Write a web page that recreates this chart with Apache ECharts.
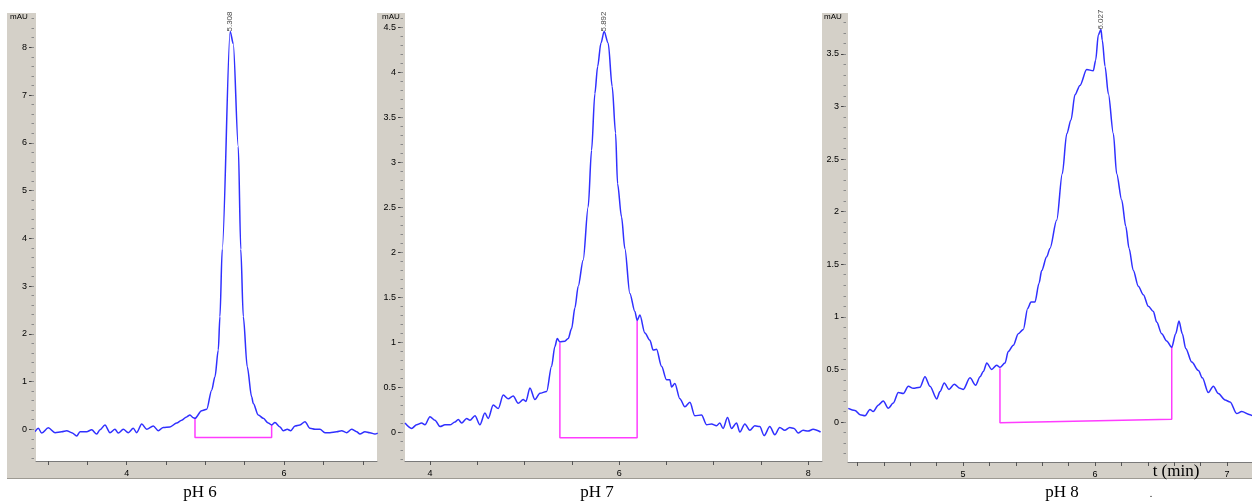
<!DOCTYPE html>
<html>
<head>
<meta charset="utf-8">
<script src="https://cdn.jsdelivr.net/npm/echarts@6/dist/echarts.min.js"></script>
<style>html,body{margin:0;padding:0;background:#fff}#c{width:1252px;height:501px}</style>
</head>
<body>
<div id="c"></div>
<script>
// ---------- DATA ----------
const panelTitles = ['pH 6', 'pH 7', 'pH 8'];
const peakLabels = ['5.308', '5.892', '6.027'];
const yUnit = 'mAU';
const xUnit = 't (min)';

// chromatogram traces: [time (min), absorbance (mAU)]
const ph6 = [[2.835,-0.05],[2.877,0.02],[2.920,-0.08],[3.004,0.03],[3.089,-0.07],[3.174,-0.05],[3.238,-0.03],[3.301,-0.07],[3.365,-0.14],[3.407,-0.05],[3.492,-0.05],[3.555,-0.01],[3.619,-0.10],[3.661,-0.01],[3.724,0.09],[3.788,-0.07],[3.851,0.00],[3.893,-0.08],[3.957,0.00],[4.020,-0.07],[4.084,0.02],[4.127,-0.07],[4.191,0.11],[4.254,0.00],[4.338,0.07],[4.402,-0.03],[4.465,0.04],[4.550,0.05],[4.635,0.13],[4.699,0.19],[4.762,0.26],[4.804,0.30],[4.846,0.24],[4.868,0.23],[4.953,0.39],[5.017,0.42],[5.080,0.82],[5.122,1.10],[5.164,1.66],[5.185,2.36],[5.214,3.77],[5.315,8.33],[5.354,8.08],[5.418,5.92],[5.450,3.77],[5.482,2.36],[5.532,1.31],[5.588,0.68],[5.609,0.54],[5.672,0.30],[5.736,0.23],[5.799,0.13],[5.842,0.09],[5.884,0.14],[5.948,0.05],[5.990,-0.03],[6.041,0.00],[6.084,-0.03],[6.139,0.07],[6.202,0.09],[6.266,0.16],[6.329,0.02],[6.393,0.00],[6.456,0.00],[6.520,-0.07],[6.583,-0.07],[6.668,-0.05],[6.732,-0.03],[6.795,-0.07],[6.859,0.00],[6.922,-0.05],[6.964,-0.10],[7.028,-0.05],[7.091,-0.07],[7.155,-0.10],[7.190,-0.08]];
const ph7 = [[3.735,0.10],[3.805,0.04],[3.858,0.08],[3.911,0.10],[3.946,0.08],[3.999,0.17],[4.052,0.13],[4.105,0.06],[4.158,0.08],[4.211,0.08],[4.263,0.11],[4.298,0.14],[4.334,0.10],[4.387,0.15],[4.422,0.13],[4.475,0.18],[4.527,0.08],[4.580,0.21],[4.615,0.15],[4.668,0.30],[4.721,0.26],[4.774,0.41],[4.827,0.37],[4.879,0.40],[4.932,0.32],[4.985,0.36],[5.014,0.34],[5.056,0.49],[5.109,0.36],[5.162,0.43],[5.233,0.45],[5.285,0.73],[5.320,0.95],[5.345,1.04],[5.373,1.00],[5.426,1.01],[5.461,1.04],[5.497,1.15],[5.532,1.38],[5.567,1.62],[5.619,1.91],[5.672,2.50],[5.708,3.13],[5.743,3.76],[5.772,4.06],[5.807,4.32],[5.841,4.45],[5.884,4.32],[5.926,3.84],[5.962,3.32],[5.983,2.76],[6.025,2.39],[6.060,2.04],[6.113,1.54],[6.166,1.34],[6.190,1.24],[6.219,1.30],[6.272,1.10],[6.325,1.02],[6.359,0.91],[6.395,0.92],[6.448,0.73],[6.501,0.58],[6.536,0.58],[6.554,0.50],[6.589,0.54],[6.642,0.37],[6.695,0.28],[6.748,0.33],[6.800,0.18],[6.871,0.19],[6.924,0.08],[6.977,0.09],[7.030,0.07],[7.064,0.10],[7.099,0.04],[7.146,0.16],[7.188,0.04],[7.241,0.10],[7.276,0.00],[7.329,0.09],[7.382,0.02],[7.434,0.07],[7.487,0.06],[7.533,-0.04],[7.593,0.06],[7.646,-0.03],[7.698,0.05],[7.751,0.02],[7.804,0.05],[7.850,0.04],[7.892,-0.01],[7.945,0.02],[7.998,0.01],[8.051,0.03],[8.130,0.00]];
const ph8 = [[4.131,0.13],[4.182,0.11],[4.220,0.07],[4.258,0.06],[4.295,0.12],[4.320,0.10],[4.358,0.16],[4.396,0.20],[4.434,0.13],[4.472,0.18],[4.510,0.28],[4.548,0.27],[4.586,0.34],[4.623,0.32],[4.674,0.33],[4.712,0.43],[4.750,0.34],[4.801,0.22],[4.826,0.29],[4.858,0.37],[4.894,0.31],[4.934,0.36],[4.977,0.32],[5.002,0.31],[5.053,0.42],[5.096,0.35],[5.129,0.43],[5.154,0.48],[5.180,0.56],[5.217,0.50],[5.255,0.54],[5.280,0.52],[5.318,0.56],[5.343,0.67],[5.381,0.73],[5.419,0.84],[5.457,0.88],[5.490,1.08],[5.515,1.14],[5.545,1.14],[5.576,1.32],[5.596,1.44],[5.634,1.57],[5.659,1.65],[5.710,1.92],[5.752,2.36],[5.786,2.74],[5.818,2.87],[5.848,3.11],[5.886,3.20],[5.937,3.35],[5.987,3.34],[6.005,3.44],[6.025,3.68],[6.045,3.73],[6.055,3.63],[6.076,3.38],[6.101,3.12],[6.139,2.74],[6.164,2.36],[6.202,2.11],[6.233,1.86],[6.258,1.65],[6.290,1.44],[6.328,1.29],[6.366,1.21],[6.404,1.10],[6.442,1.05],[6.467,0.95],[6.505,0.84],[6.543,0.77],[6.581,0.71],[6.611,0.84],[6.636,0.96],[6.661,0.84],[6.687,0.70],[6.733,0.57],[6.783,0.49],[6.813,0.42],[6.858,0.28],[6.896,0.34],[6.934,0.27],[6.985,0.21],[7.023,0.19],[7.073,0.08],[7.111,0.10],[7.174,0.07],[7.190,0.06]];

// integration baselines (start drop, baseline, end drop)
const base6 = [[4.868,0.23],[4.868,-0.17],[5.842,-0.17],[5.842,0.09]];
const base7 = [[5.373,0.99],[5.373,-0.063],[6.190,-0.063],[6.190,1.24]];
const base8 = [[5.280,0.51],[5.280,-0.007],[6.581,0.026],[6.581,0.716]];

// tick labels
const xLabels6 = [4, 6];
const xLabels7 = [4, 6, 8];
const xLabels8 = [5, 6, 7];
const yLabels6 = [0, 1, 2, 3, 4, 5, 6, 7, 8];
const yLabels7 = [0, 0.5, 1, 1.5, 2, 2.5, 3, 3.5, 4, 4.5];
const yLabels8 = [0, 0.5, 1, 1.5, 2, 2.5, 3, 3.5];

// ---------- LAYOUT ----------
function steps(a, b, s) { const r = []; const n = Math.round((b - a) / s); for (let i = 0; i <= n; i++) r.push(+(a + i * s).toFixed(4)); return r; }
const panels = [
  { data: ph6, base: base6, xl: xLabels6, xt: steps(3, 7, 0.5), yl: yLabels6, ym: steps(-0.6, 8.6, 0.2),
    grid: { left: 36, top: 13, width: 341, height: 448 }, x: [2.8475, 7.181], y: [-0.664, 8.718],
    frame: [7, 13, 370, 466], unitPos: [10, 17], titleX: 200 },
  { data: ph7, base: base7, xl: xLabels7, xt: steps(4, 8, 0.5), yl: yLabels7, ym: steps(-0.3, 4.6, 0.1),
    grid: { left: 405, top: 13, width: 417, height: 448 }, x: [3.735, 8.145], y: [-0.322, 4.656],
    frame: [377, 13, 445, 466], unitPos: [382, 17], titleX: 597 },
  { data: ph8, base: base8, xl: xLabels8, xt: steps(4.2, 7.0, 0.2), yl: yLabels8, ym: steps(-0.3, 3.8, 0.1),
    grid: { left: 848, top: 13, width: 404, height: 449 }, x: [4.129, 7.189], y: [-0.380, 3.888],
    frame: [822, 13, 430, 466], unitPos: [824, 17], titleX: 1062 }
];

const GRAY = '#d4d0c8';
const SANS = '"Liberation Sans", Arial, sans-serif';
const SERIF = '"Liberation Serif", "Times New Roman", serif';

const grids = [], xAxes = [], yAxes = [], series = [], graphics = [];
panels.forEach((p, i) => {
  const g = p.grid;
  grids.push({ left: g.left, top: g.top, width: g.width, height: g.height, containLabel: false, show: false });
  const [fx, fy, fw, fh] = p.frame;
  graphics.push({ type: 'rect', z: -10, shape: { x: fx, y: fy, width: g.left - fx, height: fh }, style: { fill: GRAY } });
  graphics.push({ type: 'rect', z: -10, shape: { x: fx, y: g.top + g.height, width: fw, height: fy + fh - (g.top + g.height) }, style: { fill: GRAY } });
  graphics.push({ type: 'rect', z: -9, shape: { x: fx, y: fy + fh - 1, width: fw, height: 1 }, style: { fill: '#9d9a93' } });
  graphics.push({ type: 'text', z: 10, x: p.unitPos[0], y: p.unitPos[1], style: { text: yUnit, font: '8px ' + SANS, fill: '#000', verticalAlign: 'middle' } });
  graphics.push({ type: 'text', z: 10, x: p.titleX, y: 493, style: { text: panelTitles[i], font: '17px ' + SERIF, fill: '#000', align: 'center', verticalAlign: 'middle' } });

  xAxes.push({ type: 'value', gridIndex: i, min: p.x[0], max: p.x[1],
    axisLine: { show: true, onZero: false, lineStyle: { color: '#7a7a7a', width: 1 } },
    axisTick: { show: true, customValues: p.xt, length: 4, lineStyle: { color: '#555' } },
    axisLabel: { customValues: p.xl, fontSize: 9, fontFamily: SANS, color: '#000', margin: 8 },
    splitLine: { show: false } });
  yAxes.push({ type: 'value', gridIndex: i, min: p.y[0], max: p.y[1], position: 'left', offset: 2,
    axisLine: { show: false },
    axisTick: { show: true, customValues: p.yl, length: 5, lineStyle: { color: '#444' } },
    axisLabel: { customValues: p.yl, fontSize: 9, fontFamily: SANS, color: '#000', margin: 7 },
    splitLine: { show: false } });
  yAxes.push({ type: 'value', gridIndex: i, min: p.y[0], max: p.y[1], position: 'left', offset: 2,
    axisLine: { show: false },
    axisTick: { show: true, customValues: p.ym, length: 2.5, lineStyle: { color: '#8a8a8a' } },
    axisLabel: { show: false }, splitLine: { show: false } });

  series.push({ type: 'line', xAxisIndex: i, yAxisIndex: 2 * i, data: p.data, symbol: 'none', showSymbol: false,
    smooth: 0.3, smoothMonotone: 'x', lineStyle: { color: '#3030ff', width: 1.5 }, z: 3 });
  series.push({ type: 'line', xAxisIndex: i, yAxisIndex: 2 * i, data: p.base, symbol: 'none', showSymbol: false,
    lineStyle: { color: '#ff3cff', width: 1.5 }, z: 2 });
  let pk = p.data[0];
  p.data.forEach(d => { if (d[1] > pk[1]) pk = d; });
  series.push({ type: 'scatter', xAxisIndex: i, yAxisIndex: 2 * i, data: [pk], symbol: 'circle', symbolSize: 2,
    itemStyle: { color: 'rgba(0,0,0,0)' }, z: 4, silent: true,
    label: { show: true, formatter: peakLabels[i], rotate: 90, position: 'top', distance: -1, align: 'left', verticalAlign: 'middle',
      fontSize: 8, fontFamily: SANS, color: '#111' } });
});
graphics.push({ type: 'text', z: 10, x: 1176, y: 472, style: { text: xUnit, font: '17px ' + SERIF, fill: '#000', align: 'center', verticalAlign: 'middle' } });
graphics.push({ type: 'text', z: 10, x: 1151, y: 494, style: { text: '.', font: '10px ' + SERIF, fill: '#000', align: 'center', verticalAlign: 'middle' } });

const chart = echarts.init(document.getElementById('c'), null, { renderer: 'canvas' });
chart.setOption({
  backgroundColor: '#fff',
  animation: false,
  grid: grids, xAxis: xAxes, yAxis: yAxes, series: series,
  graphic: { elements: graphics }
});
</script>
</body>
</html>
